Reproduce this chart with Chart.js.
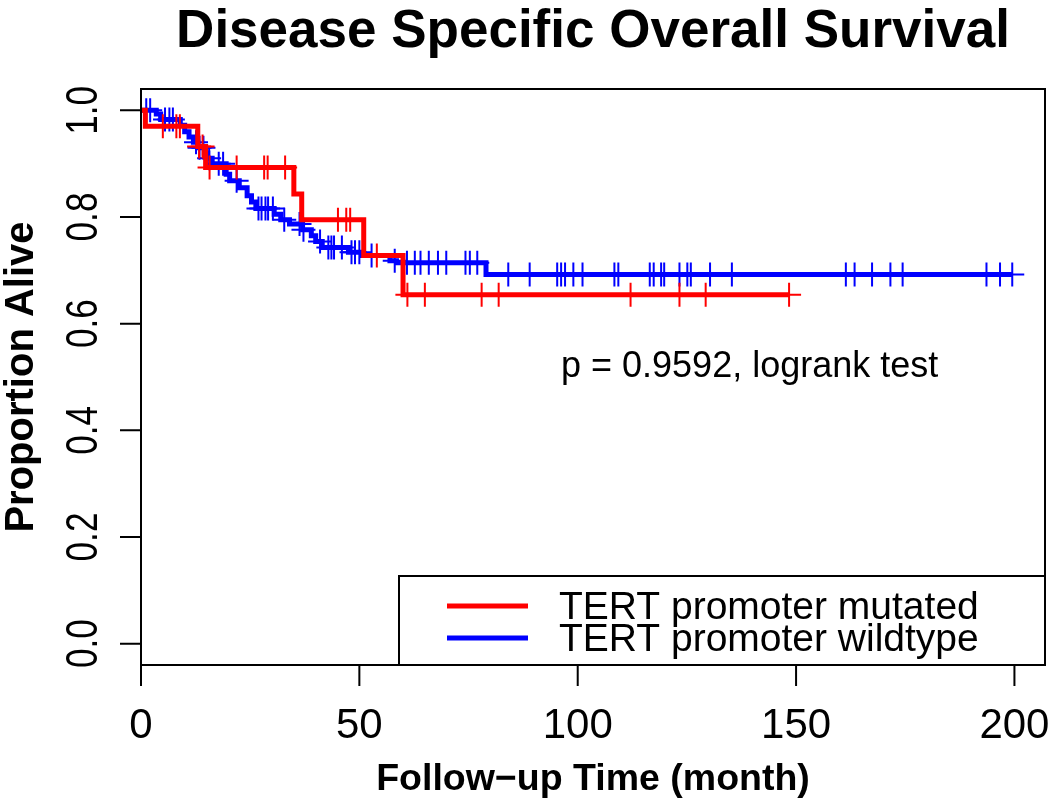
<!DOCTYPE html>
<html>
<head>
<meta charset="utf-8">
<title>Disease Specific Overall Survival</title>
<script src="https://cdn.jsdelivr.net/npm/chart.js@4.4.0/dist/chart.umd.min.js"></script>
<style>
  html, body { margin: 0; padding: 0; background: #ffffff; overflow: hidden; }
  #wrap { width: 1050px; height: 800px; }
</style>
</head>
<body>
<div id="wrap"><canvas id="survChart" width="1050" height="800"></canvas></div>
<script>
// Données
var seriesNames = ['TERT promoter mutated', 'TERT promoter wildtype'];
var seriesColors = ['#ff0000', '#0000ff'];

// Courbe rouge (muté) : temps des marches et survie après chaque marche
var mutTimes = [0, 1, 13, 14.8, 35, 36.8, 51, 60];
var mutSurv = [1, 0.970, 0.932, 0.893, 0.843, 0.795, 0.728, 0.654];
var mutCensor = [5.0, 8.1, 8.9, 13.3, 14.1, 15.7, 21.9, 28.2, 29.0, 33.0, 45.1, 47.0, 47.9, 54.0,
                 61.0, 65.0, 78.0, 81.9, 112.1, 123.3, 129.3, 148.4];

// Courbe bleue (sauvage)
var wtTimes = [0, 3.5, 4.5, 9, 10, 11, 12, 13, 14.5, 15.3, 16.3, 19.5, 20.3, 22.5, 24.3, 25.3, 26.3,
               30.5, 32, 34, 37, 39, 40, 41.5, 47.5, 50.5, 57, 58.5, 79];
var wtSurv = [1, 0.993, 0.983, 0.972, 0.960, 0.950, 0.940, 0.930, 0.920, 0.910, 0.900, 0.880, 0.868,
              0.855, 0.840, 0.828, 0.816, 0.805, 0.795, 0.787, 0.776, 0.765, 0.754, 0.743, 0.734,
              0.728, 0.718, 0.714, 0.692];
var wtCensor = [1.2, 2.1, 5.5, 6.5, 7.3, 12.6, 13.4, 14.3, 15.6, 17.8, 18.8, 21.9, 26.9, 27.6, 28.5,
                29.1, 30.2, 32.8, 36.3, 37.2, 41.0, 42.9, 43.6, 44.2, 46.0, 48.2, 49.0, 50.0, 52.8,
                58.1, 60.9, 62.7, 64.0, 65.9, 68.0, 69.9, 74.3, 75.3, 77.0, 84.1, 89.0, 95.3, 96.2,
                97.1, 99.0, 101.1, 108.4, 109.3, 116.5, 117.4, 119.1, 119.8, 123.3, 125.1, 125.9,
                130.3, 135.3, 161.4, 163.4, 167.4, 171.6, 174.4, 193.6, 196.7, 199.5];

// Graduations des axes
var xTicks = [0, 50, 100, 150, 200];
var yTicks = [0.0, 0.2, 0.4, 0.6, 0.8, 1.0];

var pText = 'p = 0.9592, logrank test';
var fontFam = '"Liberation Sans", Arial, Helvetica, sans-serif';

// Valeur de la fonction en escalier à un temps donné
function survAt(times, surv, t) {
    var v = surv[0];
    for (var i = 0; i < times.length; i++) {
        if (times[i] <= t) v = surv[i];
    }
    return v;
}

// Points de la courbe (jusqu'à la dernière censure)
function stepPoints(times, surv, censor) {
    var pts = times.map(function(t, i) { return { x: t, y: surv[i] }; });
    var last = censor[censor.length - 1];
    pts.push({ x: last, y: surv[surv.length - 1] });
    return pts;
}

function censorPoints(times, surv, censor) {
    return censor.map(function(t) { return { x: t, y: survAt(times, surv, t) }; });
}

// Axes, cadre, textes et légende
var decorPlugin = {
    id: 'decor',
    afterDraw: function(chart) {
        var ctx = chart.ctx;
        var area = chart.chartArea;
        var xs = chart.scales.x;
        var ys = chart.scales.y;
        ctx.save();
        ctx.strokeStyle = '#000';
        ctx.fillStyle = '#000';
        ctx.lineWidth = 2;

        // cadre
        ctx.strokeRect(area.left, area.top, area.right - area.left, area.bottom - area.top);

        // axe x
        ctx.beginPath();
        ctx.moveTo(xs.getPixelForValue(xTicks[0]), area.bottom);
        ctx.lineTo(xs.getPixelForValue(xTicks[xTicks.length - 1]), area.bottom);
        xTicks.forEach(function(v) {
            var px = xs.getPixelForValue(v);
            ctx.moveTo(px, area.bottom);
            ctx.lineTo(px, area.bottom + 21);
        });
        ctx.stroke();
        ctx.font = '42px ' + fontFam;
        ctx.textAlign = 'center';
        ctx.textBaseline = 'alphabetic';
        xTicks.forEach(function(v) {
            ctx.fillText(String(v), xs.getPixelForValue(v), 738);
        });

        // axe y (étiquettes tournées, un peu condensées)
        ctx.beginPath();
        ctx.moveTo(area.left, ys.getPixelForValue(yTicks[0]));
        ctx.lineTo(area.left, ys.getPixelForValue(yTicks[yTicks.length - 1]));
        yTicks.forEach(function(v) {
            var py = ys.getPixelForValue(v);
            ctx.moveTo(area.left, py);
            ctx.lineTo(area.left - 21, py);
        });
        ctx.stroke();
        ctx.font = '45px ' + fontFam;
        yTicks.forEach(function(v) {
            ctx.save();
            ctx.translate(97, ys.getPixelForValue(v));
            ctx.rotate(-Math.PI / 2);
            ctx.scale(0.78, 1);
            ctx.fillText(v.toFixed(1), 0, 0);
            ctx.restore();
        });

        // titres
        var cx = (area.left + area.right) / 2;
        ctx.font = 'bold 53px ' + fontFam;
        ctx.fillText('Disease Specific Overall Survival', cx, 47);
        ctx.font = 'bold 37.5px ' + fontFam;
        ctx.fillText('Follow\u2212up Time (month)', cx, 790);
        ctx.save();
        ctx.translate(33, (area.top + area.bottom) / 2);
        ctx.rotate(-Math.PI / 2);
        ctx.font = 'bold 40px ' + fontFam;
        ctx.fillText('Proportion Alive', 0, 0);
        ctx.restore();

        // p-valeur
        ctx.font = '36px ' + fontFam;
        ctx.textAlign = 'left';
        ctx.textBaseline = 'middle';
        ctx.fillText(pText, 561, 367);

        // légende
        var lx = 399, ly = 576;
        ctx.fillStyle = '#fff';
        ctx.fillRect(lx, ly, area.right - lx, area.bottom - ly);
        ctx.strokeRect(lx, ly, area.right - lx, area.bottom - ly);
        ctx.font = '39px ' + fontFam;
        seriesNames.forEach(function(name, i) {
            var yy = 606 + i * 32;
            ctx.strokeStyle = seriesColors[i];
            ctx.lineWidth = 5;
            ctx.beginPath();
            ctx.moveTo(447, yy);
            ctx.lineTo(528, yy);
            ctx.stroke();
            ctx.fillStyle = '#000';
            ctx.fillText(name, 559, yy + 2);
        });
        ctx.restore();
    }
};

var ctx = document.getElementById('survChart').getContext('2d');
var survChart = new Chart(ctx, {
    type: 'scatter',
    data: {
        datasets: [
            {
                label: seriesNames[0] + ' (censure)',
                data: censorPoints(mutTimes, mutSurv, mutCensor),
                pointStyle: 'cross',
                pointRadius: 12,
                borderColor: seriesColors[0],
                borderWidth: 2,
                showLine: false
            },
            {
                label: seriesNames[0],
                data: stepPoints(mutTimes, mutSurv, mutCensor),
                showLine: true,
                stepped: true,
                pointRadius: 0,
                borderColor: seriesColors[0],
                borderWidth: 5,
                fill: false
            },
            {
                label: seriesNames[1] + ' (censure)',
                data: censorPoints(wtTimes, wtSurv, wtCensor),
                pointStyle: 'cross',
                pointRadius: 12,
                borderColor: seriesColors[1],
                borderWidth: 2,
                showLine: false
            },
            {
                label: seriesNames[1],
                data: stepPoints(wtTimes, wtSurv, wtCensor),
                showLine: true,
                stepped: true,
                pointRadius: 0,
                borderColor: seriesColors[1],
                borderWidth: 5,
                fill: false
            }
        ]
    },
    options: {
        responsive: false,
        animation: false,
        devicePixelRatio: 1,
        layout: { autoPadding: false, padding: { left: 141, right: 5, top: 89, bottom: 135 } },
        plugins: {
            legend: { display: false },
            tooltip: { enabled: false },
            title: { display: false }
        },
        scales: {
            x: { type: 'linear', min: 0, max: 207, display: false },
            y: { type: 'linear', min: -0.04, max: 1.04, display: false }
        }
    },
    plugins: [decorPlugin]
});
</script>
</body>
</html>
